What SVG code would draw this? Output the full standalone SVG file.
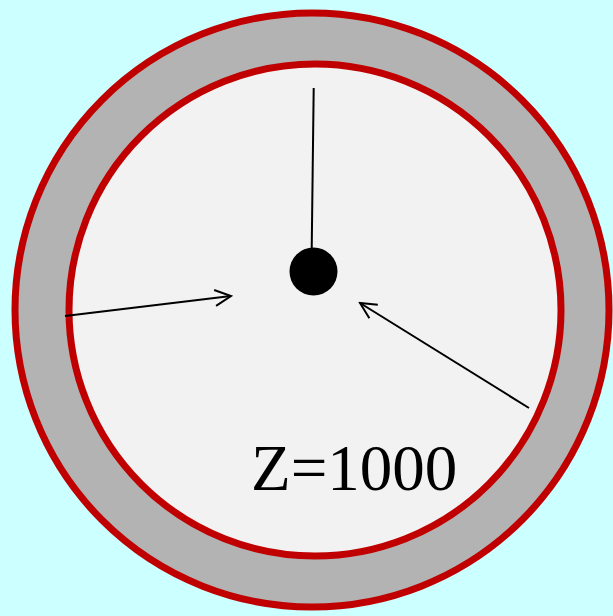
<svg xmlns="http://www.w3.org/2000/svg" width="613" height="616" viewBox="0 0 613 616">
<style>
.ring{stroke:#C00000;stroke-width:7}
.conn{stroke:#000;stroke-width:2;fill:none}
.lbl{font-family:"Liberation Serif",serif;font-size:65px;fill:#000}
</style>
<defs>
<marker id="open" viewBox="0 0 20 20" refX="18" refY="10" markerWidth="20" markerHeight="20" markerUnits="userSpaceOnUse" orient="auto">
<path d="M2,2 L18,10 L2,18" fill="none" stroke="#000" stroke-width="2"/>
</marker>
</defs>
<rect width="613" height="616" fill="#CCFFFF"/>
<g id="outer"><circle cx="312" cy="310" r="297" class="ring" fill="#B3B3B3"/></g>
<g id="inner"><circle cx="315" cy="310" r="246" class="ring" fill="#F2F2F2"/></g>
<g id="dot"><circle cx="313.5" cy="271.5" r="24" fill="#000"/></g>
<g id="connectors">
<line x1="313.7" y1="88" x2="311.7" y2="249" class="conn"/>
<line x1="65" y1="316" x2="231" y2="296" class="conn" marker-end="url(#open)"/>
<line x1="529" y1="408" x2="360" y2="303" class="conn" marker-end="url(#open)"/>
</g>
<g id="label"><text x="251" y="490" class="lbl">Z=1000</text></g>
</svg>
